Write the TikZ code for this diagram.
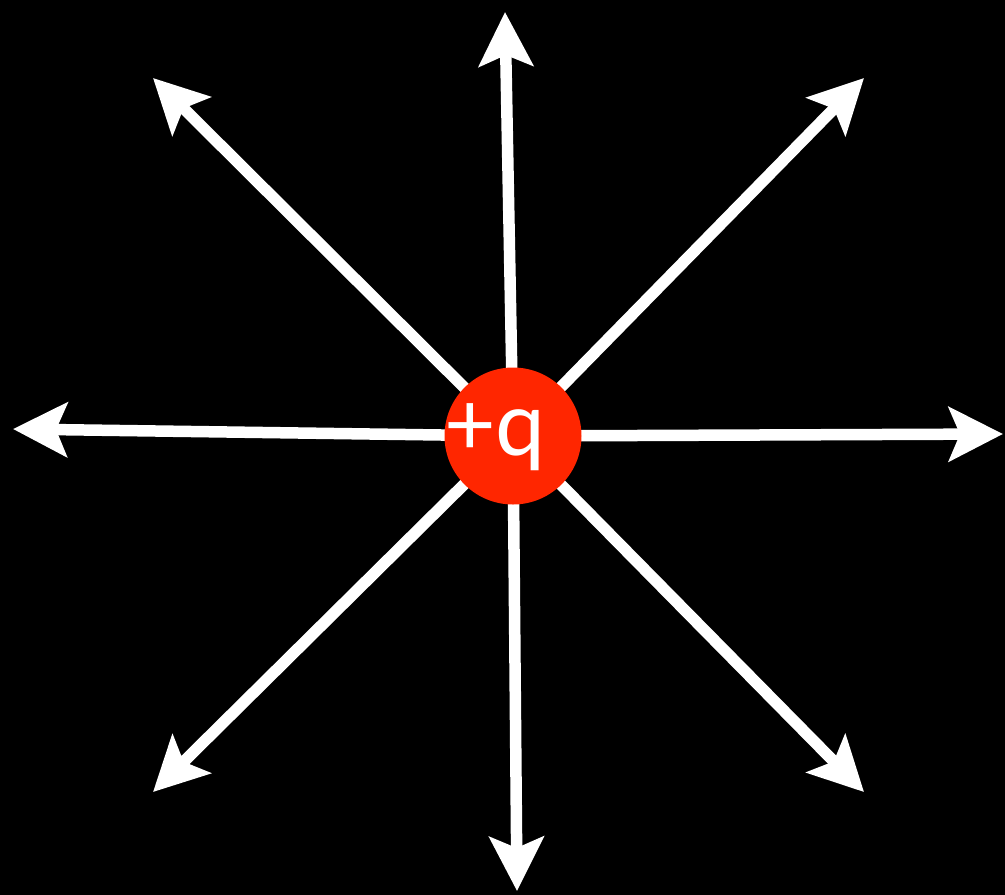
\documentclass[tikz,border=0pt]{standalone}
\usepackage{fontspec}
\setmainfont{Lato}
\usetikzlibrary{arrows.meta}
\definecolor{charge}{RGB}{255,38,0}
\begin{document}
\begin{tikzpicture}[x=1pt,y=-1pt,
  field/.style={draw=white,line width=11.5pt,-{Stealth[length=54pt,width=54pt,inset=11pt]}}]
\fill[black] (0,0) rectangle (1005,895);
\useasboundingbox (0,0) rectangle (1005,895);
\coordinate (c) at (513,436);
\coordinate (tN) at (505,12);
\coordinate (tS) at (517,891);
\coordinate (tW) at (13,429);
\coordinate (tE) at (1003,434);
\coordinate (tNW) at (153,78);
\coordinate (tNE) at (864,78);
\coordinate (tSW) at (153,792);
\coordinate (tSE) at (864,792);
\foreach \t in {tN,tS,tW,tE,tNW,tNE,tSW,tSE}{\draw[field] (c) -- (\t);}
\node[circle,fill=charge,minimum size=137pt,inner sep=0pt] (q) at (c) {};
\node[text=white,font=\fontsize{89}{89}\selectfont,anchor=base,inner sep=0pt] (lbl) at (495,455) {+q};
\end{tikzpicture}
\end{document}
